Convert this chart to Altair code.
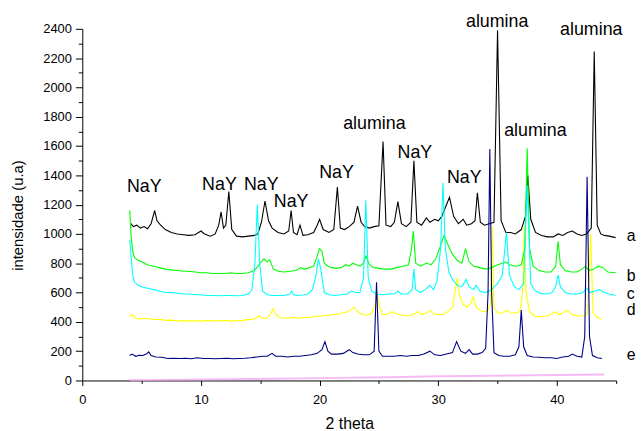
import altair as alt
import pandas as pd

# ---- data (2 theta, intensity) ----
series_a = [(4.1,1070),(4.3,1050),(4.6,1060),(4.9,1040),(5.2,1050),(5.5,1035),(5.8,1070),(6.1,1160),(6.3,1090),
 (6.6,1060),(7.0,1030),(7.5,1010),(8.0,1000),(8.5,995),(9.0,990),(9.5,995),(10.0,1020),(10.3,1000),(10.8,985),
 (11.2,1000),(11.5,1060),(11.7,1150),(11.9,1040),(12.1,1060),(12.35,1290),(12.6,1030),(13.0,985),(13.5,980),
 (14.0,985),(14.5,990),(14.8,1000),(15.1,1080),(15.4,1225),(15.7,1090),(16.0,1040),(16.5,1010),(17.0,1000),
 (17.4,1020),(17.6,1160),(17.8,1010),(18.1,995),(18.35,1060),(18.6,990),(19.0,995),(19.5,1010),(19.8,1060),
 (20.0,1100),(20.3,1030),(20.8,1010),(21.2,1030),(21.5,1320),(21.75,1040),(22.1,1030),(22.5,1050),(22.9,1080),
 (23.2,1190),(23.5,1080),(23.8,1050),(24.2,1040),(24.6,1050),(25.0,1055),(25.35,1630),(25.6,1060),(26.0,1050),
 (26.3,1080),(26.6,1220),(26.9,1070),(27.3,1050),(27.7,1080),(27.95,1500),(28.2,1080),(28.6,1060),(29.0,1110),
 (29.3,1080),(29.7,1100),(30.0,1090),(30.3,1120),(30.6,1180),(30.95,1250),(31.3,1120),(31.7,1070),(32.1,1100),
 (32.4,1060),(32.8,1070),(33.1,1090),(33.3,1280),(33.55,1080),(33.9,1060),(34.3,1070),(34.7,1080),(35.0,2390),
 (35.3,1090),(35.7,1010),(36.1,1010),(36.5,1000),(37.0,1030),(37.35,1120),(37.55,1400),(37.8,1100),(38.2,1010),
 (38.7,990),(39.2,980),(39.7,980),(40.1,1000),(40.5,990),(40.9,1010),(41.3,1020),(41.7,1000),(42.1,990),
 (42.5,1000),(42.9,1040),(43.15,2245),(43.4,1060),(43.7,1000),(44.0,990),(44.4,985),(44.95,975)]

series_b = [(4.0,1160),(4.1,1000),(4.25,880),(4.4,840),(4.7,820),(5.0,810),(5.5,790),(6.0,780),(6.5,770),(7.0,760),
 (7.5,755),(8.0,750),(8.5,745),(9.0,745),(9.5,740),(10.0,735),(10.5,735),(11.0,730),(11.5,730),(12.0,730),
 (12.5,735),(13.0,730),(13.5,730),(14.0,735),(14.5,750),(14.8,780),(15.0,800),(15.3,830),(15.6,810),(15.8,825),
 (16.1,760),(16.5,745),(17.0,740),(17.5,745),(18.0,750),(18.4,770),(18.7,760),(19.0,765),(19.5,780),(19.8,850),
 (20.0,900),(20.2,880),(20.4,800),(20.7,780),(21.0,770),(21.4,765),(21.8,770),(22.2,790),(22.5,780),(22.8,800),
 (23.1,790),(23.4,780),(23.7,800),(23.9,850),(24.2,790),(24.6,770),(25.0,765),(25.5,760),(26.0,760),(26.5,770),
 (27.0,780),(27.5,790),(27.75,900),(27.9,1020),(28.1,800),(28.5,780),(29.0,800),(29.4,790),(29.8,830),(30.2,920),
 (30.5,990),(30.8,930),(31.2,860),(31.6,820),(32.0,800),(32.3,900),(32.6,810),(33.0,780),(33.5,770),(34.0,760),
 (34.5,770),(35.0,790),(35.4,800),(35.7,810),(36.0,790),(36.5,780),(37.0,790),(37.3,900),(37.5,1585),(37.7,900),
 (38.0,780),(38.5,750),(39.0,740),(39.5,740),(39.9,780),(40.1,950),(40.3,790),(40.7,750),(41.2,740),(41.7,740),
 (42.1,760),(42.4,780),(42.7,750),(43.1,760),(43.5,780),(43.9,770),(44.3,740),(44.95,735)]

series_c = [(4.0,960),(4.1,860),(4.25,720),(4.4,670),(4.7,650),(5.0,640),(5.5,630),(6.0,620),(6.5,610),(7.0,600),
 (7.5,600),(8.0,595),(8.5,590),(9.0,590),(9.5,585),(10.0,585),(10.5,580),(11.0,580),(11.5,578),(12.0,580),
 (12.5,580),(13.0,578),(13.5,580),(14.0,590),(14.3,620),(14.55,800),(14.75,1200),(14.95,800),(15.2,610),
 (15.6,585),(16.0,580),(16.5,580),(17.0,580),(17.5,590),(17.65,610),(17.8,585),(18.2,580),(18.7,585),(19.0,590),
 (19.4,620),(19.7,720),(19.9,830),(20.1,760),(20.4,600),(20.8,585),(21.3,580),(21.8,585),(22.3,590),(22.7,610),
 (23.0,600),(23.4,600),(23.7,700),(23.9,1230),(24.1,700),(24.4,610),(24.8,590),(25.3,585),(25.8,590),(26.3,590),
 (26.6,610),(26.9,590),(27.4,590),(27.8,620),(27.95,760),(28.1,620),(28.5,600),(28.9,620),(29.3,650),(29.6,620),
 (29.9,680),(30.2,900),(30.4,1350),(30.6,900),(30.9,740),(31.2,690),(31.6,650),(32.0,640),(32.35,690),(32.6,640),
 (33.0,620),(33.2,650),(33.5,610),(34.0,600),(34.5,620),(35.0,660),(35.4,720),(35.75,1010),(36.0,720),(36.4,640),
 (36.8,620),(37.2,660),(37.5,1330),(37.8,660),(38.2,610),(38.6,595),(39.1,590),(39.6,600),(39.9,640),(40.1,720),
 (40.3,640),(40.7,600),(41.2,590),(41.7,590),(42.2,600),(42.5,630),(42.8,600),(43.2,610),(43.6,620),(44.0,600),
 (44.4,590),(44.95,580)]

series_d = [(4.0,430),(4.2,450),(4.5,425),(5.0,420),(5.5,425),(6.0,415),(6.5,418),(7.0,410),(7.5,412),(8.0,405),
 (8.5,410),(9.0,405),(9.5,408),(10.0,405),(10.5,410),(11.0,405),(11.5,408),(12.0,410),(12.5,405),(13.0,408),
 (13.5,410),(14.0,415),(14.5,420),(14.9,440),(15.2,425),(15.6,425),(15.9,460),(16.1,490),(16.3,450),(16.7,430),
 (17.2,425),(17.7,430),(18.2,425),(18.7,430),(19.2,430),(19.7,440),(20.2,440),(20.7,445),(21.2,450),(21.7,455),
 (22.2,465),(22.6,480),(22.9,500),(23.2,470),(23.6,450),(24.0,445),(24.4,460),(24.7,520),(24.85,600),(25.0,520),
 (25.3,450),(25.7,450),(26.1,470),(26.5,455),(27.0,445),(27.5,440),(27.9,450),(28.3,470),(28.6,450),(29.0,460),
 (29.3,480),(29.6,455),(30.0,450),(30.4,450),(30.8,470),(31.2,500),(31.45,620),(31.6,700),(31.8,580),(32.1,520),
 (32.4,500),(32.7,520),(32.95,570),(33.2,500),(33.5,480),(33.8,470),(34.1,470),(34.4,520),(34.55,1050),(34.7,500),
 (35.0,460),(35.4,460),(35.8,480),(36.1,460),(36.5,460),(36.9,470),(37.1,600),(37.25,1050),(37.4,600),(37.7,470),
 (38.1,440),(38.6,435),(39.1,440),(39.5,450),(39.8,470),(40.2,450),(40.5,460),(40.9,480),(41.3,450),(41.8,440),
 (42.2,440),(42.6,460),(42.85,1000),(43.05,460),(43.4,430),(43.8,420)]

series_e = [(4.0,170),(4.2,180),(4.5,165),(4.8,172),(5.1,170),(5.4,180),(5.6,195),(5.8,170),(6.2,160),(6.7,158),
 (7.2,150),(7.7,152),(8.2,150),(8.7,152),(9.2,148),(9.7,155),(10.2,150),(10.7,150),(11.2,148),(11.7,150),
 (12.2,152),(12.7,148),(13.2,150),(13.7,152),(14.2,155),(14.7,160),(15.2,165),(15.6,165),(16.0,185),(16.3,165),
 (16.8,165),(17.3,160),(17.8,165),(18.3,165),(18.8,170),(19.3,175),(19.8,185),(20.2,210),(20.45,265),(20.7,200),
 (21.0,180),(21.5,180),(22.0,185),(22.5,210),(22.8,190),(23.2,180),(23.7,175),(24.2,175),(24.6,200),(24.8,670),
 (25.0,200),(25.3,165),(25.8,165),(26.3,165),(26.8,170),(27.3,165),(27.8,170),(28.3,170),(28.8,180),(29.3,200),
 (29.7,175),(30.2,170),(30.7,180),(31.2,190),(31.55,265),(31.9,200),(32.3,185),(32.6,210),(32.9,180),(33.3,180),
 (33.7,190),(34.0,220),(34.2,600),(34.35,1580),(34.5,600),(34.7,190),(35.1,170),(35.5,165),(36.0,165),(36.5,175),
 (36.8,230),(37.0,480),(37.2,230),(37.5,170),(38.0,160),(38.5,158),(39.0,155),(39.5,155),(40.0,150),(40.5,160),
 (41.0,165),(41.3,180),(41.7,165),(42.1,160),(42.35,300),(42.55,1390),(42.75,300),(43.0,170),(43.4,155),(43.8,150)]

series_pink = [(4.0,2),(7.0,4),(10.0,6),(12.0,8),(16.0,12),(20.0,16),(24.0,20),(27.0,24),(30.0,28),(33.0,31),
 (36.0,34),(40.0,37),(44.0,40)]

# draw order (bottom to top) and colours
layers_spec = [
    (series_pink, "#f2a4f2", 2.0, 0.75),
    (series_d, "#ffff00", 1.1, 1.0),
    (series_a, "#000000", 1.1, 1.0),
    (series_b, "#00ff00", 1.1, 1.0),
    (series_c, "#00ffff", 1.1, 1.0),
    (series_e, "#000080", 1.1, 1.0),
]

ann_text = ["NaY", "NaY", "NaY", "NaY", "NaY", "alumina", "NaY", "NaY", "alumina", "alumina", "alumina"]
ann_x = [5.22, 11.56, 15.08, 17.6, 21.43, 24.62, 28.03, 32.2, 34.97, 38.19, 42.9]
ann_y = [1284, 1298, 1298, 1183, 1380, 1718, 1521, 1345, 2413, 1670, 2360]

letters = ["a", "b", "c", "d", "e"]
letters_x = [45.9, 45.9, 45.9, 45.9, 45.9]
letters_y = [950, 678, 554, 446, 137]

FONT = "Liberation Sans"

x_axis = alt.Axis(
    values=list(range(0, 46, 5)),
    labelExpr="datum.value % 10 === 0 ? datum.label : ''",
    tickSize={"condition": {"test": "datum.value % 10 === 0", "value": 5}, "value": 3},
    grid=False, domainColor="black", tickColor="black", labelColor="black",
    labelFont=FONT, labelFontSize=13, labelPadding=8, labelFlush=False, labelOverlap=False,
    titleFont=FONT, titleFontSize=16, titleFontWeight="normal", titleColor="black",
    titleY=49, titleBaseline="alphabetic",
)
y_axis = alt.Axis(
    values=list(range(0, 2401, 100)),
    format="d",
    labelExpr="datum.value % 200 === 0 ? datum.label : ''",
    tickSize={"condition": {"test": "datum.value % 200 === 0", "value": 7}, "value": 4},
    grid=False, domainColor="black", tickColor="black", labelColor="black",
    labelFont=FONT, labelFontSize=13, labelPadding=4, labelFlush=False, labelOverlap=False,
    titleFont=FONT, titleFontSize=15, titleFontWeight="normal", titleColor="black",
    titleX=-65, titleY=188, titleBaseline="middle",
)

xenc = alt.X("x:Q", scale=alt.Scale(domain=[0, 45], nice=False, zero=False), axis=x_axis, title="2 theta")
yenc = alt.Y("y:Q", scale=alt.Scale(domain=[0, 2400], nice=False), axis=y_axis, title="intensidade (u.a)")

charts = []
for pts, col, sw, op in layers_spec:
    df = pd.DataFrame(pts, columns=["x", "y"])
    charts.append(
        alt.Chart(df).mark_line(color=col, strokeWidth=sw, opacity=op, interpolate="linear")
        .encode(x=xenc, y=yenc, order="x:Q")
    )

ann_df = pd.DataFrame({"x": ann_x, "y": ann_y, "t": ann_text})
charts.append(
    alt.Chart(ann_df).mark_text(align="center", baseline="alphabetic", font=FONT, fontSize=18, color="black")
    .encode(x=xenc, y=yenc, text="t:N")
)
let_df = pd.DataFrame({"x": letters_x, "y": letters_y, "t": letters})
charts.append(
    alt.Chart(let_df).mark_text(align="left", baseline="alphabetic", font=FONT, fontSize=16, color="black")
    .encode(x=xenc, y=yenc, text="t:N")
)

chart = alt.layer(*charts).properties(
    width=539, height=355,
    padding={"left": 75, "top": 19, "right": 20, "bottom": 49},
    autosize=alt.AutoSizeParams(type="none"),
    background="white",
).configure_view(strokeWidth=0)

chart.save("out.html", embed_options={"renderer": "svg", "actions": False})
